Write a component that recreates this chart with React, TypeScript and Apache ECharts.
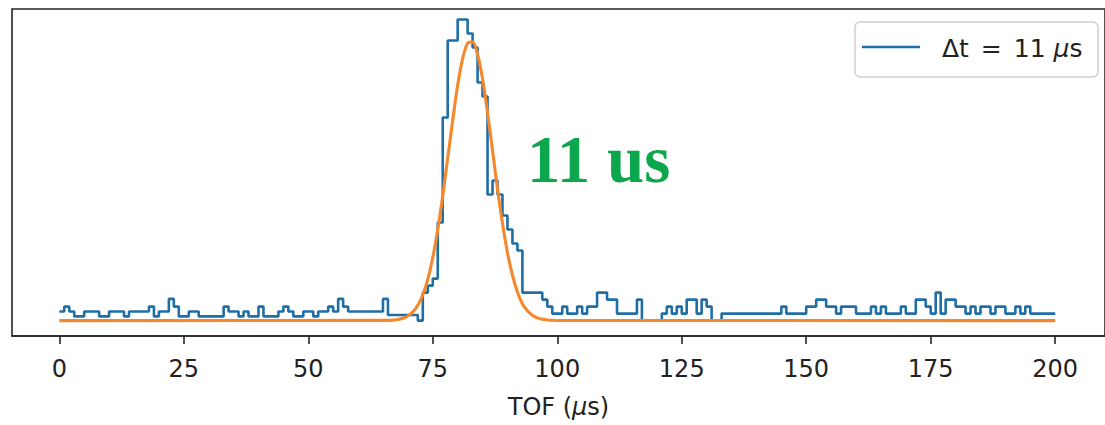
import React, { useEffect, useRef } from "react";
import * as echarts from "echarts";

// Histogram counts per 1 µs bin, bins start at 0 µs
const binValues: number[] = [
  1.3, 2, 1.3, 0.6, 0.6, 1.3, 1.3, 1.3, 0.6, 0.6,
  1.3, 1.3, 1.3, 0.6, 1.3, 1.3, 1.3, 1.3, 2, 0.6,
  1.3, 1.3, 3.1, 2, 0.6, 0.6, 1.3, 1.3, 0.6, 0.6,
  0.6, 0.6, 0.6, 2, 1.3, 1.3, 0.6, 1.3, 0.6, 0.6,
  2, 0.6, 0.6, 0.6, 1.3, 2, 1.3, 0.6, 0.6, 1.3,
  1.3, 0.6, 1.3, 1.3, 2, 1.3, 3.1, 2, 1.3, 1.3,
  1.3, 1.3, 1.3, 1.3, 1.3, 3.1, 0.8, 0.8, 0.8, 0.8,
  0.8, 0.8, 0, 4, 5, 6, 14, 29, 40, 40,
  43, 43, 41, 39, 34, 32, 18, 20, 18, 15,
  13, 11, 10, 4, 4, 4, 4, 3, 2, 1,
  1, 2, 1, 1, 2, 1, 2, 2, 4, 4,
  3, 3, 1, 1, 1, 1, 3, 0, 0, 0,
  0, 1, 2, 1, 2, 1, 3, 3, 1, 3,
  2, 0, 0, 1, 1, 1, 1, 1, 1, 1,
  1, 1, 1, 1, 1, 2, 1, 1, 1, 1,
  2, 2, 3, 3, 2, 2, 1, 2, 2, 2,
  1, 1, 1, 2, 1, 2, 1, 1, 1, 2,
  1, 1, 3, 3, 2, 1, 4, 1, 3, 3,
  2, 2, 1, 2, 1, 2, 2, 1, 2, 2,
  1, 1, 2, 1, 2, 1, 1, 1, 1, 1,
];
const binWidth = 1;

// Gaussian fit curve
const fitX: number[] = [
  0, 66, 67, 68, 69, 70, 71, 72, 73, 74, 75, 76, 77, 78, 79, 80, 81, 82, 83,
  84, 85, 86, 87, 88, 89, 90, 91, 92, 93, 94, 95, 96, 97, 98, 99, 100, 200,
];
const fitY: number[] = [
  0, 0.03, 0.07, 0.16, 0.34, 0.66, 1.24, 2.2, 3.7, 5.9, 9.0, 13.0, 17.8, 23.2,
  28.6, 33.6, 37.4, 39.6, 39.8, 38.0, 34.5, 29.7, 24.3, 18.8, 13.9, 9.7, 6.5,
  4.1, 2.4, 1.4, 0.76, 0.39, 0.19, 0.09, 0.04, 0.02, 0,
];

const xTicks: number[] = [0, 25, 50, 75, 100, 125, 150, 175, 200];
const seriesName = "Δt = 11 μs";
const annotation = "11 us";

const BLUE = "#1f6fa6";
const ORANGE = "#f5872c";

export default function App() {
  const ref = useRef<HTMLDivElement>(null);
  useEffect(() => {
    if (!ref.current) return;
    const chart = echarts.init(ref.current, undefined, { renderer: "svg" });
    const histData: number[][] = binValues.map((v, i) => [i * binWidth, v]);
    histData.push([binValues.length * binWidth, binValues[binValues.length - 1]]);
    const fitData = fitX.map((x, i) => [x, fitY[i]]);

    chart.setOption({
      animation: false,
      backgroundColor: "#ffffff",
      grid: {
        left: 12,
        top: 9,
        width: 1103,
        height: 327,
        show: true,
        borderColor: "#262626",
        borderWidth: 1.6,
        containLabel: false,
      },
      xAxis: {
        type: "value",
        min: -9.5,
        max: 210,
        name: "{a|TOF (}{b|μ}{a|s)}",
        nameLocation: "middle",
        nameGap: 59,
        nameTextStyle: {
          rich: {
            a: { fontFamily: "DejaVu Sans", fontSize: 24, color: "#222" },
            b: { fontFamily: "DejaVu Sans", fontSize: 24, fontStyle: "italic", color: "#222" },
          },
        },
        axisLine: { show: true, onZero: false, lineStyle: { color: "#262626", width: 1.6 } },
        splitLine: { show: false },
        axisTick: {
          show: true,
          length: 8,
          inside: false,
          customValues: xTicks,
          lineStyle: { color: "#262626", width: 1.6 },
        },
        axisLabel: {
          show: true,
          customValues: xTicks,
          margin: 21,
          fontFamily: "DejaVu Sans",
          fontSize: 24,
          color: "#222",
        },
      },
      yAxis: {
        type: "value",
        min: -2.2,
        max: 44.5,
        axisLine: { show: false },
        axisTick: { show: false },
        axisLabel: { show: false },
        splitLine: { show: false },
      },
      series: [
        {
          name: seriesName,
          type: "line",
          step: "end",
          data: histData,
          showSymbol: false,
          lineStyle: { color: BLUE, width: 2.6 },
          z: 2,
        },
        {
          name: "fit",
          type: "line",
          data: fitData,
          showSymbol: false,
          smooth: 0.3,
          lineStyle: { color: ORANGE, width: 3.1 },
          z: 3,
        },
      ],
      graphic: [
        {
          type: "rect",
          shape: { x: 855, y: 22, width: 243, height: 55, r: 5 },
          style: { fill: "rgba(255,255,255,0.85)", stroke: "#cfcfcf", lineWidth: 1.5 },
          z: 10,
        },
        {
          type: "line",
          shape: { x1: 862, y1: 47, x2: 920, y2: 47 },
          style: { stroke: BLUE, lineWidth: 2.6 },
          z: 11,
        },
        {
          type: "text",
          x: 942,
          y: 48,
          style: {
            text: "{a|Δt }{e|=}{a| 11 }{b|μ}{a|s}",
            verticalAlign: "middle",
            rich: {
              a: { fontFamily: "DejaVu Sans", fontSize: 25, fill: "#222" },
              e: { fontFamily: "DejaVu Sans", fontSize: 25, fill: "#222", padding: [0, 4, 0, 4] },
              b: { fontFamily: "DejaVu Sans", fontSize: 25, fontStyle: "italic", fill: "#222" },
            },
          },
          z: 11,
        },
        {
          type: "text",
          x: 527,
          y: 159,
          style: {
            text: annotation,
            fill: "#0ca64c",
            font: 'bold 67px "Liberation Serif"',
            verticalAlign: "middle",
          },
          z: 11,
        },
      ],
    });
    return () => chart.dispose();
  }, []);
  return (
    <div
      ref={ref}
      style={{ position: "fixed", left: 0, top: 0, width: 1105, height: 425 }}
    />
  );
}
